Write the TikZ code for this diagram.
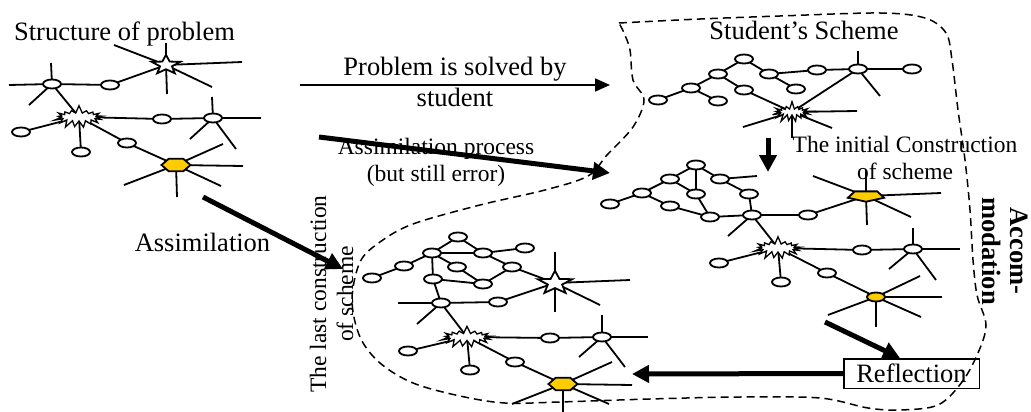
\documentclass[tikz,border=0pt]{standalone}
\usepackage{fontspec}
\setmainfont{Liberation Serif}
\usetikzlibrary{shapes.geometric,shapes.symbols,arrows.meta,backgrounds}
\definecolor{gold}{HTML}{FFCC00}
% spokes: short free lines leaving a node, given as dx/dy offsets
\newcommand\nodespokes[2]{\foreach \dx/\dy in {#2} \draw[link] (#1.center) -- +(\dx,\dy);}
\begin{document}
\begin{tikzpicture}[x=1pt,y=-1pt,
  link/.style={line width=1.8pt},
  oval/.style={ellipse, draw, line width=1.8pt, fill=white, minimum width=18pt, minimum height=9pt, inner sep=0pt},
  goldoval/.style={oval, fill=gold},
  hexa/.style={regular polygon, regular polygon sides=6, draw, line width=1.8pt, fill=gold, minimum size=29pt, inner sep=0pt, yscale=0.5},
  penta/.style={regular polygon, regular polygon sides=5, shape border rotate=180, draw, line width=1.8pt, fill=gold, minimum size=38pt, inner sep=0pt, yscale=0.3},
  starnode/.style={star, star points=5, star point ratio=2.4, draw, line width=1.8pt, fill=white, inner sep=0pt, yscale=0.68},
  burst/.style={starburst, starburst points=17, starburst point height=8pt, random starburst=7, draw, line width=1.3pt, fill=white, inner sep=0pt},
  bigarrow/.style={line width=5pt, -{Triangle[length=17pt,width=17pt]}},
  thinarrow/.style={line width=1.8pt, -{Triangle[length=15pt,width=13pt]}},
  big/.style={font=\fontsize{26.5}{30.5}\selectfont},
  small/.style={font=\fontsize{23.5}{27}\selectfont},
  boundary/.style={line width=1.5pt, dash pattern=on 8pt off 5pt}
]
\useasboundingbox (0,0) rectangle (1031,412);

% ---------- structure of the problem ----------
\node[starnode, minimum size=30pt] (S1) at (166,65) {};
\node[oval] (tl1) at (52,84) {};
\node[oval] (tl2) at (110,85) {};
\node[burst, minimum width=52pt, minimum height=24pt] (B1) at (79,117) {};
\node[oval] (tl3) at (21,132) {};
\node[oval] (tl4) at (81,152) {};
\node[oval] (tl5) at (162,119) {};
\node[oval] (tl6) at (213,118) {};
\node[oval] (tl7) at (127,143) {};
\node[hexa] (Y1) at (176,165) {};

% ---------- student's scheme ----------
\node[oval] (srA) at (658,100) {};
\node[oval] (srB) at (691,88) {};
\node[oval] (srC) at (718,74) {};
\node[oval] (srD) at (744,59) {};
\node[oval] (srE) at (769,74) {};
\node[oval] (srF) at (796,89) {};
\node[oval] (srG) at (718,101) {};
\node[oval] (srH) at (744,90) {};
\node[oval] (srI) at (817,70) {};
\node[oval] (srJ) at (858,69) {};
\node[oval] (srK) at (912,69) {};
\node[burst, minimum width=42pt, minimum height=22pt] (srX) at (792,112) {};

% ---------- initial construction of scheme ----------
\node[oval] (mA) at (610,204) {};
\node[oval] (mB) at (642,193) {};
\node[oval] (mC) at (670,179) {};
\node[oval] (mD) at (696,165) {};
\node[oval] (mE) at (720,179) {};
\node[oval] (mF) at (749,194) {};
\node[oval] (mG) at (696,194) {};
\node[oval] (mH) at (670,206) {};
\node[oval] (mI) at (710,217) {};
\node[oval] (mJ) at (752,215) {};
\node[oval] (mK) at (808,215) {};
\node[burst, minimum width=50pt, minimum height=24pt] (mX) at (778,248) {};
\node[oval] (mL) at (719,263) {};
\node[penta] (mP) at (866,196) {};
\node[oval] (mM) at (862,250) {};
\node[oval] (mN) at (913,249) {};
\node[oval] (mO) at (827,273) {};
\node[oval] (mQ) at (781,282) {};
\node[goldoval] (mY) at (876,297) {};

% ---------- last construction of scheme ----------
\node[oval] (bA) at (458,237) {};
\node[oval] (bB) at (432,253) {};
\node[oval] (bC) at (483,253) {};
\node[oval] (bD) at (525,248) {};
\node[oval] (bE) at (404,266) {};
\node[oval] (bF) at (457,267) {};
\node[oval] (bG) at (512,267) {};
\node[oval] (bH) at (372,278) {};
\node[oval] (bI) at (433,279) {};
\node[oval] (bJ) at (483,284) {};
\node[oval] (bK) at (441,303) {};
\node[oval] (bL) at (498,302) {};
\node[starnode, minimum size=36pt] (bS) at (555,283) {};
\node[burst, minimum width=54pt, minimum height=23pt] (bX) at (467,337) {};
\node[oval] (bM) at (550,338) {};
\node[oval] (bN) at (602,337) {};
\node[oval] (bO) at (408,351) {};
\node[oval] (bP) at (470,370) {};
\node[oval] (bQ) at (515,362) {};
\node[hexa] (bY) at (563,384) {};

% ---------- labels ----------
\node[big, anchor=base] (title) at (124.5,41) {Structure of problem};
\node[big, anchor=base] (stud) at (804,40) {Student’s Scheme};
\node[big, align=center] (solved) at (455,82) {Problem is solved by\\student};
\node[small, align=center] (aproc) at (436,162) {Assimilation process\\(but still error)};
\node[big, anchor=base] (assim) at (202.5,251) {Assimilation};
\node[small, align=center] (initc) at (905,158) {The initial Construction\\of scheme};
\node[small, align=center, rotate=90] (lastc) at (331.5,294) {The last construction\\of scheme};
\node[big, align=center, rotate=-90, font=\fontsize{26.5}{28}\selectfont\bfseries] (accom) at (1005.5,251) {Accom-\\modation};
\node[big, draw, line width=1.5pt, minimum width=135.5pt, minimum height=29.5pt, inner sep=0pt] (refl) at (911.5,373.5) {Reflection};

% ---------- links, spokes and the dashed scheme boundary ----------
\begin{scope}[on background layer]
  \draw[boundary] plot[smooth, tension=0.55] coordinates {
    (619,23) (700,19) (780,16) (880,13) (925,18) (946,33) (952,60) (958,110)
    (965,160) (970,210) (973,260) (977,295) (986,325) (978,353) (962,382)
    (938,405) (900,410) (868,408) (820,398) (740,397) (650,399) (560,402)
    (505,403) (460,396) (413,383) (380,363) (360,337) (352,300) (360,262)
    (380,242) (413,224) (480,205) (545,190) (588,176) (607,155) (633,127)
    (644,100) (633,80) (630,50) (624,33) (619,23)};

  \draw[link] (tl1.center) -- (tl2.center) -- (S1.center);
  \draw[link] (tl1.center) -- (B1.center);
  \draw[link] (B1.center) -- (tl3.center);
  \draw[link] (B1.center) -- (tl4.center);
  \draw[link] (B1.center) -- (tl5.center) -- (tl6.center);
  \draw[link] (B1.center) -- (tl7.center) -- (Y1.center);
  \nodespokes{S1}{-52/-20, 76/-3, 46/22, 1/29, 0/-22}
  \nodespokes{tl1}{-43/1, -1/-21, -23/21}
  \nodespokes{tl6}{-1/-21, 48/0, -23/21, 23/31}
  \nodespokes{Y1}{47/-21, 67/1, 45/21, 1/32, -52/20}

  \draw[link] (srA.center) -- (srB.center) -- (srC.center) -- (srD.center) -- (srE.center) -- (srF.center);
  \draw[link] (srB.center) -- (srG.center);
  \draw[link] (srC.center) -- (srH.center) -- (srX.center);
  \draw[link] (srE.center) -- (srI.center) -- (srJ.center) -- (srK.center);
  \draw[link] (srJ.center) -- (srX.center);
  \nodespokes{srJ}{0/-18, 22/27}
  \nodespokes{srX}{65/-1, 40/16, -49/15, 0/26}

  \draw[link] (mA.center) -- (mB.center) -- (mC.center) -- (mD.center) -- (mE.center) -- (mF.center) -- (mJ.center) -- (mK.center) -- (mP.center);
  \draw[link] (mD.center) -- (mG.center);
  \draw[link] (mC.center) -- (mG.center) -- (mI.center);
  \draw[link] (mB.center) -- (mH.center) -- (mI.center) -- (mJ.center);
  \draw[link] (mJ.center) -- (mX.center) -- (mL.center);
  \draw[link] (mX.center) -- (mM.center) -- (mN.center);
  \draw[link] (mX.center) -- (mO.center) -- (mY.center);
  \draw[link] (mX.center) -- (mQ.center);
  \nodespokes{mE}{37/-3}
  \nodespokes{mJ}{-24/21}
  \nodespokes{mP}{0/-26, -53/-20, 75/-3, 45/21, 1/29}
  \nodespokes{mN}{0/-21, 47/0, -24/20, 23/31}
  \nodespokes{mY}{44/-21, 66/0, 45/20, 0/30, -48/18}

  \draw[link] (bA.center) -- (bB.center) -- (bC.center) -- (bA.center);
  \draw[link] (bC.center) -- (bD.center);
  \draw[link] (bB.center) -- (bE.center) -- (bH.center);
  \draw[link] (bB.center) -- (bI.center) -- (bJ.center);
  \draw[link] (bB.center) -- (bF.center) -- (bJ.center);
  \draw[link] (bC.center) -- (bG.center) -- (bJ.center);
  \draw[link] (bG.center) -- (bS.center);
  \draw[link] (bI.center) -- (bK.center) -- (bL.center) -- (bS.center);
  \draw[link] (bK.center) -- (bX.center) -- (bO.center);
  \draw[link] (bX.center) -- (bP.center);
  \draw[link] (bX.center) -- (bM.center) -- (bN.center);
  \draw[link] (bX.center) -- (bQ.center) -- (bY.center);
  \nodespokes{bK}{-43/0, -24/21}
  \nodespokes{bS}{0/-31, 0/29, 75/-3, 45/22}
  \nodespokes{bN}{0/-22, 46/0, -23/20, 23/30}
  \nodespokes{bY}{49/-22, 69/1, 46/20, 0/28, -51/20}
\end{scope}

% ---------- process arrows ----------
\coordinate (solA) at (300,85);
\coordinate (solB) at (610,85);
\coordinate (apA) at (319,137);
\coordinate (apB) at (610,173);
\coordinate (asA) at (203,197);
\coordinate (asB) at (343,269);
\coordinate (dnA) at (768,138);
\coordinate (dnB) at (768,172);
\coordinate (rfA) at (825,322);
\coordinate (rfB) at (900,358);
\coordinate (rfC) at (632,374);
\draw[thinarrow] (solA) -- (solB);
\draw[bigarrow] (apA) -- (apB);
\draw[bigarrow] (asA) -- (asB);
\draw[bigarrow] (dnA) -- (dnB);
\draw[bigarrow] (rfA) -- (rfB);
\draw[bigarrow] (refl.west) -- (rfC);
\end{tikzpicture}
\end{document}
